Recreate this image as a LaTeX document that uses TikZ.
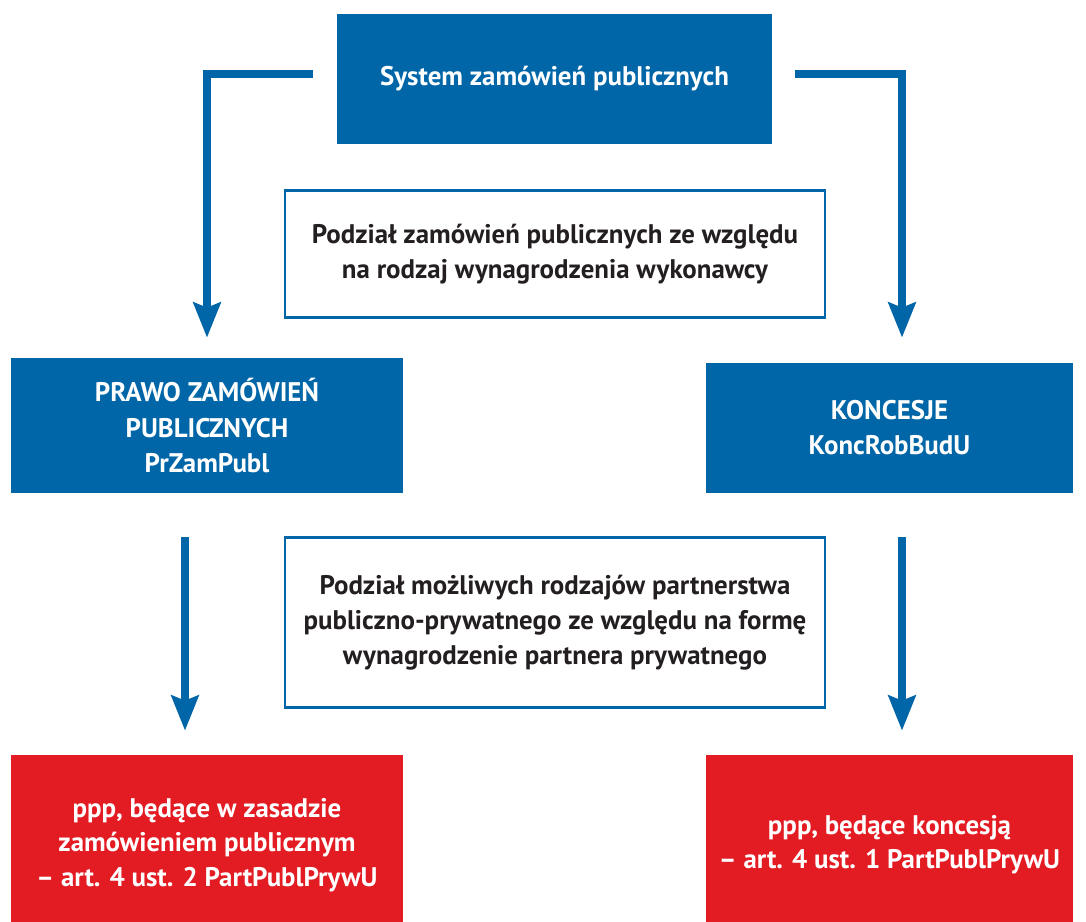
\documentclass[tikz,border=0pt]{standalone}
\usepackage{fontspec}
\setmainfont{PT Sans}
\usepackage{tikz}
\usetikzlibrary{positioning,arrows.meta,calc}

\definecolor{zpblue}{HTML}{0066A8}
\definecolor{zpred}{HTML}{E31B23}
\definecolor{zptext}{HTML}{231F20}

\tikzset{
    bluebox/.style={rectangle, fill=zpblue, text=white, font=\bfseries\fontsize{15.3}{20}\selectfont, align=center, inner sep=0pt},
    redbox/.style={rectangle, fill=zpred, text=white, font=\bfseries\fontsize{15.3}{19.5}\selectfont, align=center, inner sep=0pt},
    splitbox/.style={rectangle, draw=zpblue, line width=1.2pt, fill=white, text=zptext, font=\bfseries\fontsize{15.3}{20}\selectfont, align=center, inner sep=0pt},
    flow/.style={draw=zpblue, line width=4.5pt, -{Stealth[length=0.7cm, width=0.54cm, inset=0.1cm]}}
}

\begin{document}
\begin{tikzpicture}[x=0.02cm, y=-0.02cm]
    \useasboundingbox (0,0) rectangle (1086,921);

    % Define boxes
    \node[bluebox, minimum width=8.7cm, minimum height=2.6cm] (system) at (554.5,79) {System zamówień publicznych};
    \node[splitbox, minimum width=10.8cm, minimum height=2.54cm] (podzial1) at (555,254) {Podział zamówień publicznych ze względu\\na rodzaj wynagrodzenia wykonawcy};
    \node[bluebox, minimum width=7.84cm, minimum height=2.7cm] (prawo) at (207,425.5) {PRAWO ZAMÓWIEŃ\\PUBLICZNYCH\\PrZamPubl};
    \node[bluebox, minimum width=7.34cm, minimum height=2.6cm] (koncesje) at (889.5,428) {KONCESJE\\KoncRobBudU};
    \node[splitbox, minimum width=10.8cm, minimum height=3.4cm] (podzial2) at (555,622.5) {Podział możliwych rodzajów partnerstwa\\publiczno-prywatnego ze względu na formę\\wynagrodzenie partnera prywatnego};
    \node[redbox, minimum width=7.84cm, minimum height=3.6cm] (pppzam) at (207,845) {ppp, będące w zasadzie\\zamówieniem publicznym\\– art. 4 ust. 2 PartPublPrywU};
    \node[redbox, minimum width=7.34cm, minimum height=3.6cm] (pppkonc) at (889.5,845) {ppp, będące koncesją\\– art. 4 ust. 1 PartPublPrywU};

    % Arrows
    \draw[flow] ([xshift=-0.48cm, yshift=0.1cm]system.west) -| ([yshift=0.4cm]prawo.north);
    \draw[flow] ([xshift=0.46cm, yshift=0.1cm]system.east) -| ($(koncesje.north)+(12.5,-25)$);
    \draw[flow] ($(prawo.south)+(-22,44)$) -- ($(pppzam.north)+(-22,-24)$);
    \draw[flow] ($(koncesje.south)+(12.5,44)$) -- ($(pppkonc.north)+(12.5,-24)$);
\end{tikzpicture}
\end{document}
